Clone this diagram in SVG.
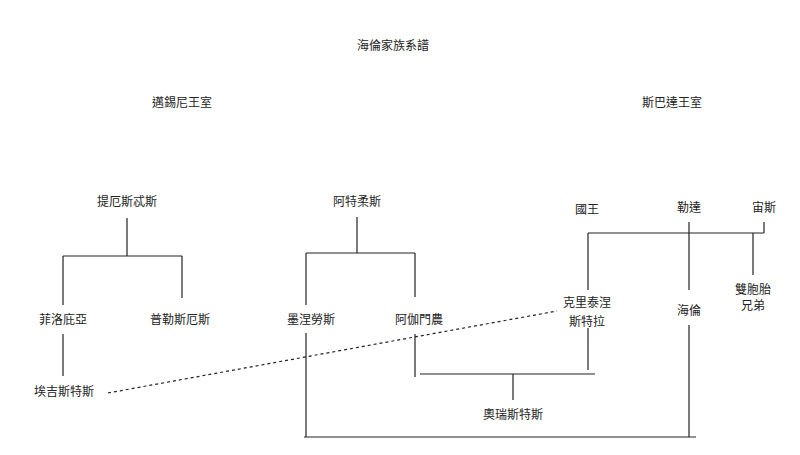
<svg xmlns="http://www.w3.org/2000/svg" width="800" height="455" viewBox="0 0 800 455">
<style>
text{font-family:"Noto Sans CJK TC","Noto Sans CJK SC",sans-serif;font-size:12px;fill:#222;text-anchor:middle}
.c line{stroke:#222;stroke-width:1.2}
.d{stroke-dasharray:3 3}
</style>
<rect width="800" height="455" fill="#fff"/>
<text x="393" y="50">海倫家族系譜</text>
<text x="182" y="107">邁錫尼王室</text>
<text x="672" y="107">斯巴達王室</text>
<g class="c">
<line x1="127" y1="218" x2="127" y2="256"/>
<line x1="63" y1="256" x2="182" y2="256"/>
<line x1="63" y1="256" x2="63" y2="305"/>
<line x1="182" y1="256" x2="182" y2="298"/>
<line x1="63" y1="334" x2="63" y2="376"/>
<line x1="357" y1="217" x2="357" y2="253"/>
<line x1="306" y1="253" x2="415" y2="253"/>
<line x1="306" y1="253" x2="306" y2="305"/>
<line x1="415" y1="253" x2="415" y2="297"/>
<line x1="306" y1="333" x2="306" y2="437"/>
<line x1="304" y1="437" x2="696" y2="437"/>
<line x1="415" y1="334" x2="415" y2="377"/>
<line x1="420" y1="374" x2="595" y2="374"/>
<line x1="513" y1="374" x2="513" y2="400"/>
<line x1="588" y1="233" x2="588" y2="290"/>
<line x1="588" y1="328" x2="588" y2="370"/>
<line x1="588" y1="233" x2="764" y2="233"/>
<line x1="764" y1="222" x2="764" y2="233"/>
<line x1="753" y1="233" x2="753" y2="275"/>
<line x1="689" y1="222" x2="689" y2="290"/>
<line x1="689" y1="325" x2="689" y2="437"/>
<line class="d" x1="108" y1="393" x2="557" y2="311"/>
</g>
<g id="thyestes"><text x="127" y="206">提厄斯忒斯</text></g>
<g id="pelopia"><text x="63" y="324">菲洛庇亞</text></g>
<g id="pleisthenes"><text x="180" y="324">普勒斯厄斯</text></g>
<g id="aegisthus"><text x="64" y="396">埃吉斯特斯</text></g>
<g id="atreus"><text x="357" y="206">阿特柔斯</text></g>
<g id="menelaus"><text x="311" y="324">墨涅勞斯</text></g>
<g id="agamemnon"><text x="419" y="324">阿伽門農</text></g>
<g id="orestes"><text x="513" y="419">奧瑞斯特斯</text></g>
<g id="clytemnestra"><text x="587" y="307">克里泰涅</text><text x="587" y="326">斯特拉</text></g>
<g id="king"><text x="587" y="214">國王</text></g>
<g id="leda"><text x="689" y="212">勒達</text></g>
<g id="zeus"><text x="764" y="212">宙斯</text></g>
<g id="twins"><text x="753" y="294">雙胞胎</text><text x="753" y="310">兄弟</text></g>
<g id="helen"><text x="689" y="315">海倫</text></g>
</svg>
